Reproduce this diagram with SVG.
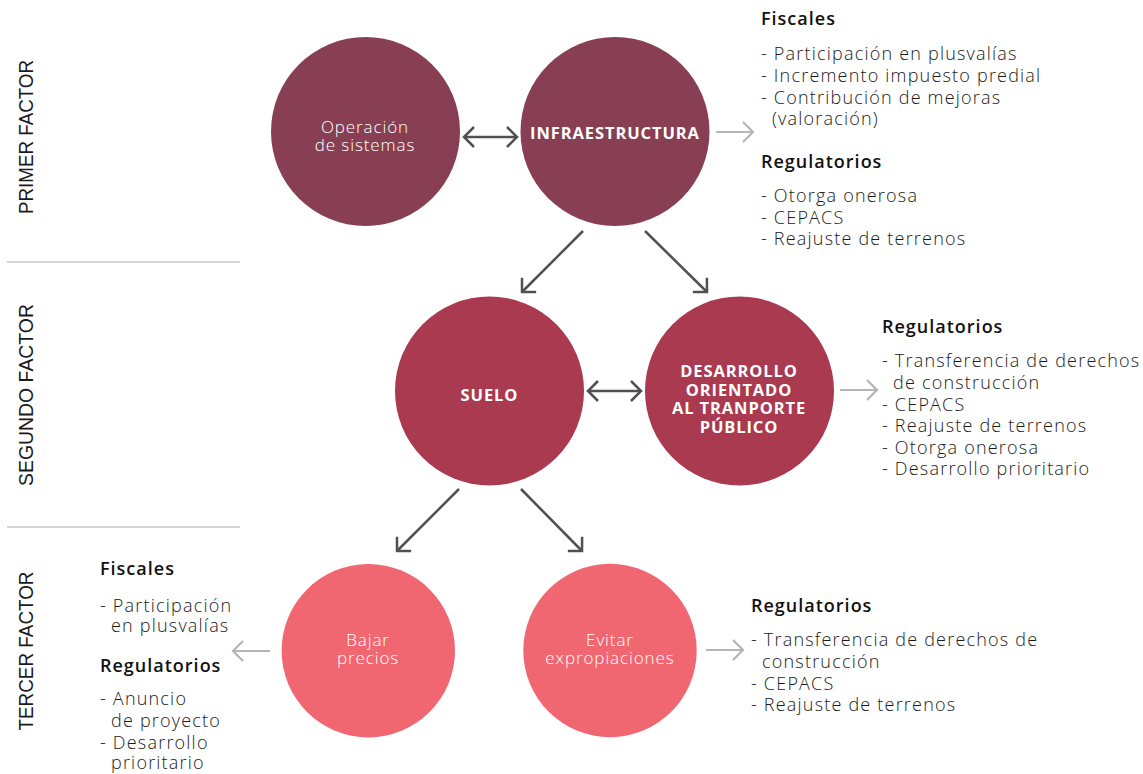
<svg xmlns="http://www.w3.org/2000/svg" width="1143" height="774" viewBox="0 0 1143 774">
<defs>
<style>
.factor{font-family:"Liberation Sans",Arial,sans-serif;font-size:20px;fill:#1a1a1a;text-anchor:middle}
.div{stroke:#c8c8c8;stroke-width:1.5}
.ct{font-family:"Open Sans","Noto Sans",sans-serif;font-weight:300;font-size:17px;letter-spacing:0.9px;fill:#ffffff;text-anchor:middle}
.cb{font-family:"Open Sans","Noto Sans",sans-serif;font-weight:700;font-size:16.5px;letter-spacing:0.9px;fill:#ffffff;text-anchor:middle}
.h{font-family:"Open Sans","Noto Sans",sans-serif;font-weight:600;font-size:18px;letter-spacing:1px;fill:#111111}
.t{font-family:"Open Sans","Noto Sans",sans-serif;font-weight:300;font-size:18px;letter-spacing:1.2px;fill:#1a1a1a}
.dk{stroke:#505050;stroke-width:2.5;fill:none}
.gr{stroke:#b5b5b5;stroke-width:2.2;fill:none}
</style>
<marker id="ad" markerUnits="userSpaceOnUse" viewBox="-13 -13 16 26" markerWidth="16" markerHeight="26" refX="0" refY="0" orient="auto-start-reverse">
<path d="M-10,-10 L0,0 L-10,10" fill="none" stroke="#505050" stroke-width="2.5"/>
</marker>
<marker id="ag" markerUnits="userSpaceOnUse" viewBox="-13 -13 16 26" markerWidth="16" markerHeight="26" refX="0" refY="0" orient="auto">
<path d="M-10,-10 L0,0 L-10,10" fill="none" stroke="#b5b5b5" stroke-width="2.2"/>
</marker>
</defs>
<rect width="1143" height="774" fill="#ffffff"/>

<g id="factors">
<text class="factor" transform="translate(33,137) rotate(-90)" textLength="154" lengthAdjust="spacingAndGlyphs">PRIMER FACTOR</text>
<text class="factor" transform="translate(33,395) rotate(-90)" textLength="182" lengthAdjust="spacingAndGlyphs">SEGUNDO FACTOR</text>
<text class="factor" transform="translate(33,651) rotate(-90)" textLength="159" lengthAdjust="spacingAndGlyphs">TERCER FACTOR</text>
<line class="div" x1="7" y1="262" x2="240" y2="262"/>
<line class="div" x1="7" y1="527" x2="240" y2="527"/>
</g>

<g id="connectors">
<line class="dk" x1="464" y1="137" x2="517" y2="137" marker-start="url(#ad)" marker-end="url(#ad)"/>
<line class="gr" x1="716" y1="132" x2="753" y2="132" marker-end="url(#ag)"/>
<line class="dk" x1="583" y1="231" x2="522" y2="292" marker-end="url(#ad)"/>
<line class="dk" x1="645" y1="231" x2="707" y2="292" marker-end="url(#ad)"/>
<line class="dk" x1="588" y1="391" x2="641" y2="391" marker-start="url(#ad)" marker-end="url(#ad)"/>
<line class="gr" x1="840" y1="390" x2="877" y2="390" marker-end="url(#ag)"/>
<line class="dk" x1="459" y1="489" x2="397" y2="551" marker-end="url(#ad)"/>
<line class="dk" x1="521" y1="489" x2="582" y2="551" marker-end="url(#ad)"/>
<line class="gr" x1="270" y1="651" x2="233" y2="651" marker-end="url(#ag)"/>
<line class="gr" x1="706" y1="650" x2="743" y2="650" marker-end="url(#ag)"/>
</g>

<g id="operacion">
<circle cx="365.5" cy="131.5" r="94.5" fill="#883f53"/>
<text class="ct" x="365" y="133">Operación</text>
<text class="ct" x="365" y="151">de sistemas</text>
</g>

<g id="infraestructura">
<circle cx="615" cy="131.5" r="94.5" fill="#883f53"/>
<text class="cb" x="615" y="139">INFRAESTRUCTURA</text>
</g>

<g id="suelo">
<circle cx="489.5" cy="391" r="94.5" fill="#a93a4f"/>
<text class="cb" x="489.5" y="400.5">SUELO</text>
</g>

<g id="dot">
<circle cx="739.5" cy="391" r="94.5" fill="#a93a4f"/>
<text class="cb" x="739" y="376.5">DESARROLLO</text>
<text class="cb" x="739" y="395.5">ORIENTADO</text>
<text class="cb" x="739" y="414">AL TRANPORTE</text>
<text class="cb" x="739" y="432.5">PÚBLICO</text>
</g>

<g id="bajar">
<circle cx="368.3" cy="650.7" r="86.7" fill="#f06772"/>
<text class="ct" x="368" y="646">Bajar</text>
<text class="ct" x="368" y="664">precios</text>
</g>

<g id="evitar">
<circle cx="610" cy="650.5" r="86.7" fill="#f06772"/>
<text class="ct" x="610" y="646">Evitar</text>
<text class="ct" x="610" y="664">expropiaciones</text>
</g>

<g id="list-primer">
<text class="h" x="761" y="25">Fiscales</text>
<text class="t" x="761" y="60">- Participación en plusvalías</text>
<text class="t" x="761" y="82">- Incremento impuesto predial</text>
<text class="t" x="761" y="104">- Contribución de mejoras</text>
<text class="t" x="772" y="125">(valoración)</text>
<text class="h" x="761" y="168">Regulatorios</text>
<text class="t" x="761" y="202">- Otorga onerosa</text>
<text class="t" x="761" y="223.5">- CEPACS</text>
<text class="t" x="761" y="245">- Reajuste de terrenos</text>
</g>

<g id="list-segundo">
<text class="h" x="882" y="333">Regulatorios</text>
<text class="t" x="882" y="367">- Transferencia de derechos</text>
<text class="t" x="893" y="389">de construcción</text>
<text class="t" x="882" y="410.5">- CEPACS</text>
<text class="t" x="882" y="432">- Reajuste de terrenos</text>
<text class="t" x="882" y="453.5">- Otorga onerosa</text>
<text class="t" x="882" y="475">- Desarrollo prioritario</text>
</g>

<g id="list-tercer-izq">
<text class="h" x="100" y="575">Fiscales</text>
<text class="t" x="100" y="611.5">- Participación</text>
<text class="t" x="111" y="632">en plusvalías</text>
<text class="h" x="100" y="672">Regulatorios</text>
<text class="t" x="100" y="705">- Anuncio</text>
<text class="t" x="111" y="727">de proyecto</text>
<text class="t" x="100" y="748.5">- Desarrollo</text>
<text class="t" x="111" y="768.5">prioritario</text>
</g>

<g id="list-tercer-der">
<text class="h" x="751" y="612">Regulatorios</text>
<text class="t" x="751" y="646">- Transferencia de derechos de</text>
<text class="t" x="762" y="668">construcción</text>
<text class="t" x="751" y="690">- CEPACS</text>
<text class="t" x="751" y="711">- Reajuste de terrenos</text>
</g>
</svg>
